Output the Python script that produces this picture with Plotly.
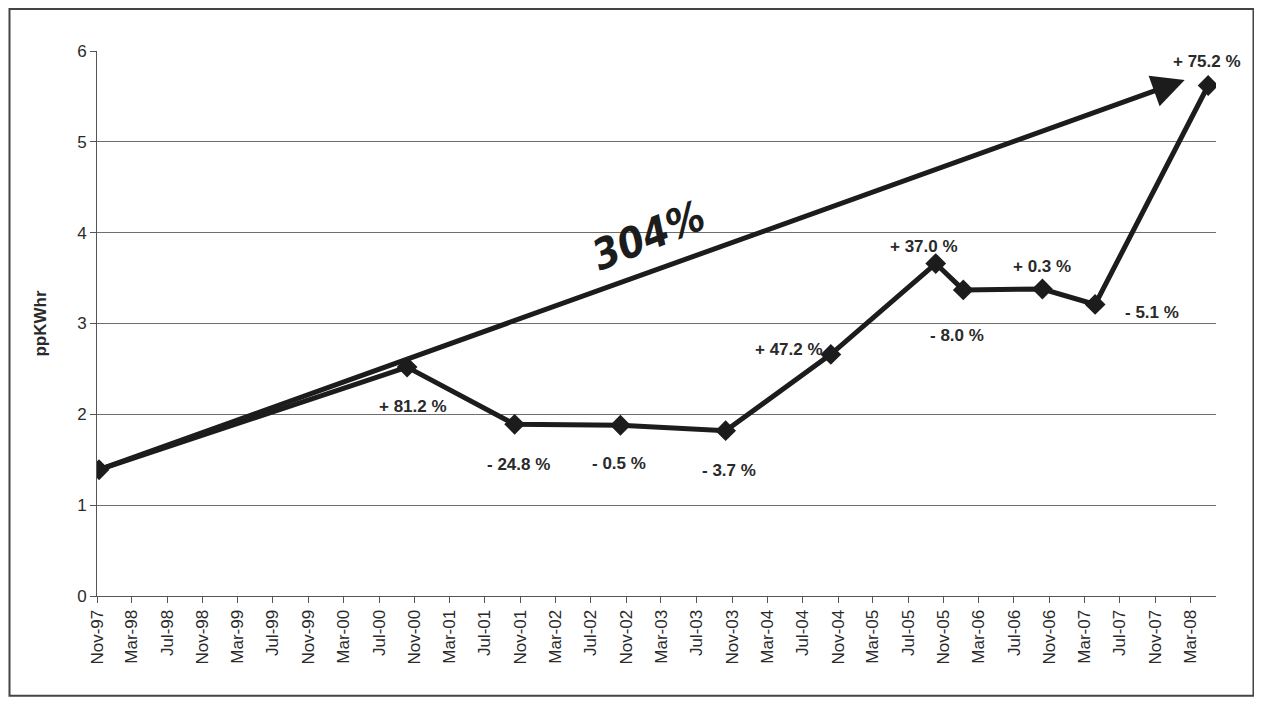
import plotly.graph_objects as go

# ---- data ----
dates = ["1997-11-08", "2000-10-06", "2001-10-12", "2002-10-12", "2003-10-10",
         "2004-10-07", "2005-10-04", "2006-01-07", "2006-10-07", "2007-04-07",
         "2008-05-01"]
price = [1.39, 2.52, 1.89, 1.88, 1.82, 2.66, 3.66, 3.37, 3.38, 3.21, 5.62]
change_labels = [None, "+ 81.2 %", "- 24.8 %", "- 0.5 %", "- 3.7 %", "+ 47.2 %",
                 "+ 37.0 %", "- 8.0 %", "+ 0.3 %", "- 5.1 %", "+ 75.2 %"]
tick_dates = ["1997-11-01", "1998-03-01", "1998-07-01", "1998-11-01", "1999-03-01",
              "1999-07-01", "1999-11-01", "2000-03-01", "2000-07-01", "2000-11-01",
              "2001-03-01", "2001-07-01", "2001-11-01", "2002-03-01", "2002-07-01",
              "2002-11-01", "2003-03-01", "2003-07-01", "2003-11-01", "2004-03-01",
              "2004-07-01", "2004-11-01", "2005-03-01", "2005-07-01", "2005-11-01",
              "2006-03-01", "2006-07-01", "2006-11-01", "2007-03-01", "2007-07-01",
              "2007-11-01", "2008-03-01"]
tick_text = ["Nov-97", "Mar-98", "Jul-98", "Nov-98", "Mar-99", "Jul-99", "Nov-99",
             "Mar-00", "Jul-00", "Nov-00", "Mar-01", "Jul-01", "Nov-01", "Mar-02",
             "Jul-02", "Nov-02", "Mar-03", "Jul-03", "Nov-03", "Mar-04", "Jul-04",
             "Nov-04", "Mar-05", "Jul-05", "Nov-05", "Mar-06", "Jul-06", "Nov-06",
             "Mar-07", "Jul-07", "Nov-07", "Mar-08"]
total_label = "304%"
arrow_head_date = "2008-02-10"
arrow_head_value = 5.68
y_title = "ppKWhr"

# label offsets (pixels) relative to each point
label_dx = [0, 6, 4, -1, 3, -42, -12, -6, 0, 57, -1]
label_dy = [0, -39, -40, -38, -40, 5, 17, -46, 22, -8, 24]

fig = go.Figure()

fig.add_trace(go.Scatter(
    x=dates, y=price, mode="lines+markers",
    line=dict(color="#1c1c1c", width=5),
    marker=dict(symbol="diamond", size=16, color="#1c1c1c"),
    showlegend=False, hoverinfo="x+y",
))

annotations = []
for d, v, lab, dx, dy in zip(dates, price, change_labels, label_dx, label_dy):
    if lab is None:
        continue
    annotations.append(dict(
        x=d, y=v, xref="x", yref="y", text="<b>" + lab + "</b>", showarrow=False,
        xshift=dx, yshift=dy,
        font=dict(family="Liberation Sans, Arial, sans-serif", size=17, color="#2a2a2a"),
    ))

# big trend arrow
annotations.append(dict(
    x=arrow_head_date, y=arrow_head_value, xref="x", yref="y",
    ax=dates[0], ay=price[0], axref="x", ayref="y",
    showarrow=True, arrowhead=2, arrowsize=1.3, arrowwidth=5,
    arrowcolor="#1c1c1c", standoff=0, startstandoff=0, text="",
))

annotations.append(dict(
    x=0.493, y=0.662, xref="paper", yref="paper",
    text="<b><i>" + total_label + "</i></b>", showarrow=False, textangle=-22,
    font=dict(family="DejaVu Sans Condensed, Liberation Sans Narrow, Arial Narrow, sans-serif",
              size=42, color="#1c1c1c"),
))

fig.update_layout(
    width=1262, height=701,
    margin=dict(l=89, r=54, t=43, b=113),
    paper_bgcolor="white", plot_bgcolor="white",
    annotations=annotations,
    shapes=[dict(type="rect", xref="paper", yref="paper",
                 x0=-0.0782, x1=1.0335, y0=-0.183, y1=1.0771,
                 line=dict(color="#444444", width=2), fillcolor="rgba(0,0,0,0)",
                 layer="above")],
    xaxis=dict(
        type="date", range=["1997-11-01", "2008-05-28"],
        tickmode="array", tickvals=tick_dates, ticktext=tick_text,
        tickangle=-90, ticks="outside", ticklen=6, tickcolor="#555555",
        showgrid=False, showline=True, linecolor="#555555", linewidth=1,
        tickfont=dict(family="Liberation Sans, Arial, sans-serif", size=17, color="#2a2a2a"),
        zeroline=False,
    ),
    yaxis=dict(
        range=[0, 6], dtick=1, tick0=0,
        showgrid=True, gridcolor="#6e6e6e", gridwidth=1,
        showline=True, linecolor="#555555", linewidth=1,
        ticks="outside", ticklen=6, tickcolor="#555555",
        zeroline=False,
        tickfont=dict(family="Liberation Sans, Arial, sans-serif", size=17, color="#2a2a2a"),
        title=dict(text="<b>" + y_title + "</b>", standoff=26,
                   font=dict(family="Liberation Sans, Arial, sans-serif", size=17, color="#2a2a2a")),
    ),
)

fig.write_html("out.html")
